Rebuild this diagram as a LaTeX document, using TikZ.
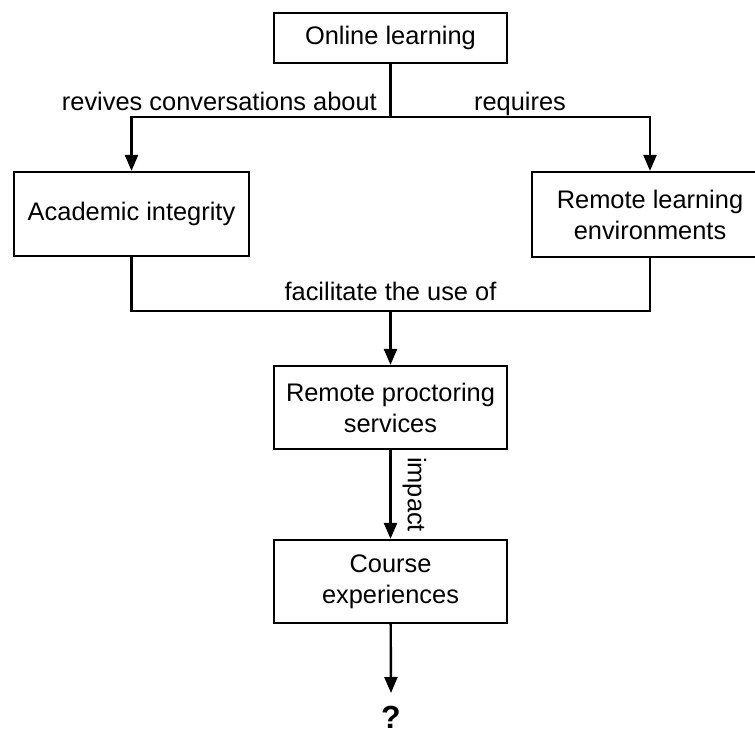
\documentclass[tikz,border=0pt]{standalone}
\usepackage{fontspec}
\setmainfont{Liberation Sans}
\usetikzlibrary{arrows.meta}
\begin{document}
\begin{tikzpicture}[x=1pt,y=-1pt,
  box/.style={draw,line width=2.2pt,inner sep=0pt,align=center,minimum width=233pt,minimum height=83pt,font=\fontsize{25.4}{31}\selectfont},
  lbl/.style={font=\fontsize{25.4}{31}\selectfont,inner sep=0pt},
  conn/.style={line width=2.4pt},
  arr/.style={conn,-{Triangle[length=16pt,width=13pt]}}]
\clip (0,0) rectangle (755,736);
\fill[white] (0,0) rectangle (755,736);
\node[box,minimum height=50pt] (on) at (390.5,38) {Online learning};
\node[box,minimum width=235pt,minimum height=84pt] (ai) at (131.5,214) {Academic integrity};
\node[box,minimum width=236pt,minimum height=85pt] (rl) at (650,214.5) {Remote learning\\environments};
\node[box] (rp) at (390.5,407.5) {Remote proctoring\\services};
\node[box] (ce) at (390.5,581.5) {Course\\experiences};
\node[lbl,font=\fontsize{32}{34}\selectfont\bfseries] (q) at (391,717) {?};
\coordinate (j1) at (390.5,117);
\coordinate (j2) at (390.5,311);
\draw[conn] (on) -- (j1);
\draw[arr] (j1) -| (ai);
\draw[arr] (j1) -| (rl);
\draw[conn] (ai) |- (j2) -| (rl);
\draw[arr] (j2) -- (rp);
\draw[arr] (rp) -- (ce) node[lbl,midway,rotate=-90,anchor=south,inner sep=11pt] (im) {impact};
\draw[arr] (ce) -- (391,693) coordinate (qe);
\node[lbl,anchor=base east] (l1) at (377,110) {revives conversations about};
\node[lbl,anchor=base] (l2) at (520,110) {requires};
\node[lbl,anchor=base] (l3) at (390.5,300) {facilitate the use of};
\end{tikzpicture}
\end{document}
